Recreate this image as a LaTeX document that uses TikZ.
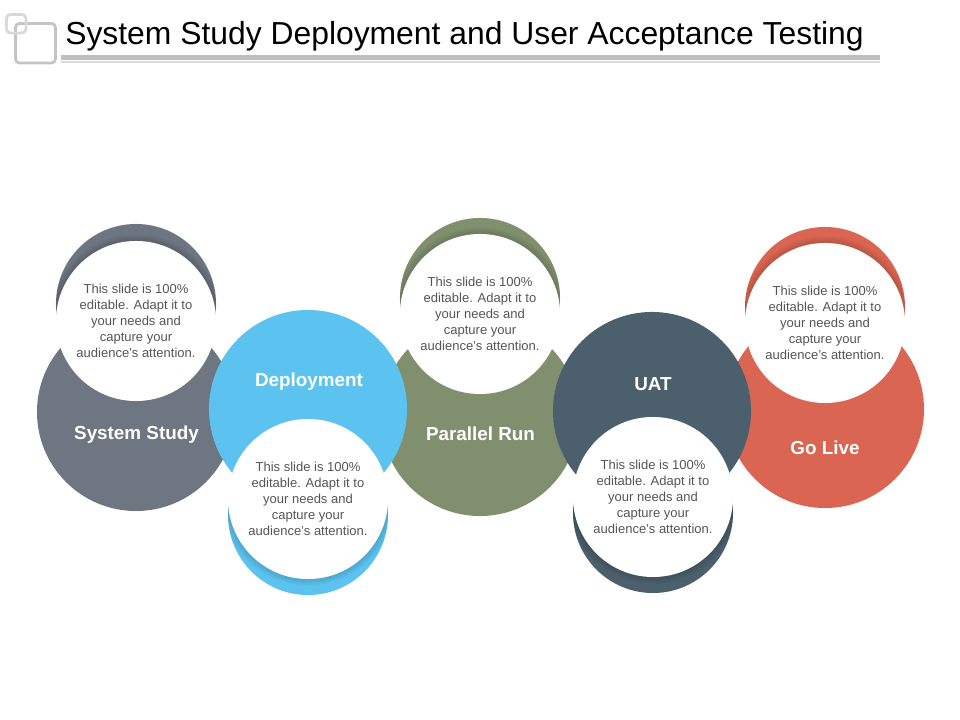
\documentclass[tikz,border=0pt]{standalone}
\usepackage{fontspec}
\setmainfont{Liberation Sans}
\definecolor{studygrey}{HTML}{6E7681}
\definecolor{deployblue}{HTML}{5CC3F0}
\definecolor{runolive}{HTML}{80906F}
\definecolor{uatslate}{HTML}{4B606C}
\definecolor{liveorange}{HTML}{D96552}
\definecolor{bodygrey}{HTML}{555555}
\tikzset{
  bigdisc/.style={circle,minimum size=4.95cm,inner sep=0pt,fill=#1},
  backdisc/.style={circle,minimum size=4cm,inner sep=0pt,fill=#1},
  whitedisc/.style={circle,minimum size=4cm,inner sep=0pt,fill=white,text=bodygrey,
    font=\fontsize{9.25pt}{11.4pt}\selectfont,align=center},
  stagename/.style={text=white,font=\fontsize{13.4pt}{15pt}\selectfont\bfseries},
  logobox/.style={draw=#1,rounded corners=0.1cm,line width=0.07cm}
}
\newcommand{\slidetext}{This slide is 100\%\\ editable. Adapt it to\\ your needs and\\ capture your\\ audience's attention.}
% soft dark band on a back disc (#1,#2), next to the white disc (#3,#4)
\newcommand{\discshade}[4]{
  \begin{scope}
    \clip (#1,#2) circle (80);
    \foreach \r in {87,86,85,84,83,82,81}
      \fill[black,opacity=0.02] (#3,#4) circle (\r);
  \end{scope}
}
\begin{document}
\begin{tikzpicture}[x=0.025cm,y=-0.025cm]
  \useasboundingbox (0,0) rectangle (960,720);

  % title and logo
  \draw[logobox=black!23] (15.5,23.5) rectangle (55.5,63);
  \draw[logobox=black!15] (6.5,14.5) rectangle (26,33);
  \node[anchor=west,inner sep=0pt,font=\fontsize{22.65pt}{28pt}\selectfont] (title) at (65,36.5)
    {System Study Deployment and User Acceptance Testing};
  \fill[black!25] (61,55) rectangle (880,60);
  \fill[black!14] (61,61.5) rectangle (880,63.5);

  % back discs
  \node[backdisc=studygrey] (studyback) at (136,304) {};
  \node[backdisc=deployblue] (deployback) at (308,515) {};
  \node[backdisc=runolive] (runback) at (480,298) {};
  \node[backdisc=uatslate] (uatback) at (653,513) {};
  \node[backdisc=liveorange] (liveback) at (825,307) {};
  \discshade{136}{304}{136}{321}
  \discshade{308}{515}{308}{499}
  \discshade{480}{298}{480}{314}
  \discshade{653}{513}{653}{497}
  \discshade{825}{307}{825}{323}

  % big discs, the blue and the slate one lie on top
  \node[bigdisc=studygrey] (study) at (136,412) {};
  \node[bigdisc=runolive] (run) at (480,417) {};
  \node[bigdisc=liveorange] (live) at (825,409) {};
  \node[bigdisc=deployblue] (deploy) at (308,409) {};
  \node[bigdisc=uatslate] (uat) at (652,411) {};

  % white discs
  \node[whitedisc] (studytext) at (136,321) {\slidetext};
  \node[whitedisc] (deploytext) at (308,499) {\slidetext};
  \node[whitedisc] (runtext) at (480,314) {\slidetext};
  \node[whitedisc] (uattext) at (653,497) {\slidetext};
  \node[whitedisc] (livetext) at (825,323) {\slidetext};

  % names
  \node[stagename] (studyname) at (136.5,435) {System Study};
  \node[stagename] (deployname) at (309,382) {Deployment};
  \node[stagename] (runname) at (480.5,434) {Parallel Run};
  \node[stagename] (uatname) at (653,384) {UAT};
  \node[stagename] (livename) at (825,448) {Go Live};
\end{tikzpicture}
\end{document}
